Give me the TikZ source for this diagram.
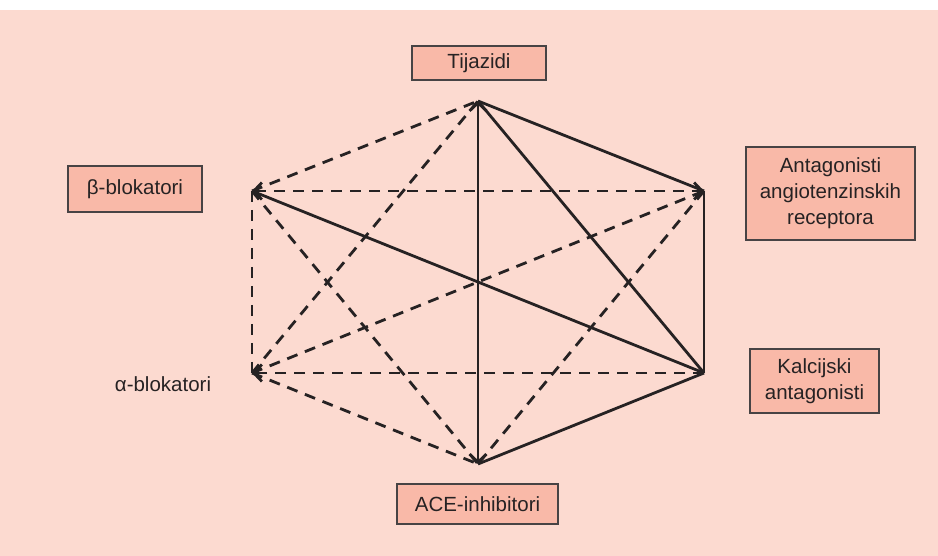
\documentclass[tikz,border=0pt]{standalone}
\usepackage{fontspec}
\setmainfont{Liberation Sans}
\usetikzlibrary{arrows.meta}
\definecolor{bgpink}{HTML}{FCDAD0}
\definecolor{boxpink}{HTML}{F9B9A8}
\definecolor{inkgray}{HTML}{262223}

\begin{document}
\begin{tikzpicture}[x=1pt,y=-1pt,
	drug/.style={draw=inkgray!85,line width=1.4pt,fill=boxpink,inner sep=0pt,align=center,text=inkgray,font=\fontsize{20.5}{26}\selectfont},
	link/.style={draw=inkgray,line width=2.8pt},
	weak/.style={link,dash pattern=on 11pt off 8pt},
	>={Straight Barb[length=8pt,width=17pt]}]
		\useasboundingbox (0,0) rectangle (938,556);
		\fill[bgpink] (0,10) rectangle (938,556);

		% corners of the hexagon
		\coordinate (T) at (478,101);
		\coordinate (AR) at (704,191);
		\coordinate (K) at (704,373);
		\coordinate (ACE) at (478,464);
		\coordinate (A) at (252,373);
		\coordinate (B) at (252,191);

		\node[drug,minimum width=134pt,minimum height=34pt] (tij) at (479,63) {Tijazidi};
		\node[drug,minimum width=134pt,minimum height=46pt] (beta) at (135,189) {β-blokatori};
		\node[drug,minimum width=169pt,minimum height=93pt] (ant) at (830.5,193.5) {Antagonisti\\angiotenzinskih\\receptora};
		\node[drug,minimum width=129pt,minimum height=64pt] (kal) at (814.5,381) {Kalcijski\\antagonisti};
		\node[drug,minimum width=161pt,minimum height=40pt] (ace) at (477.5,504) {ACE-inhibitori};
		\node[text=inkgray,font=\fontsize{20.5}{26}\selectfont] (alfa) at (163,384) {α-blokatori};

		% dashed
		\draw[weak] (B) -- (T);
		\draw[weak] (A) -- (T);
		\draw[weak,<->] (B) -- (AR);
		\draw[weak] (B) -- (A);
		\draw[weak] (B) -- (ACE);
		\draw[weak] (A) -- (AR);
		\draw[weak,->] (K) -- (A);
		\draw[weak] (A) -- (ACE);
		\draw[weak] (AR) -- (ACE);

		% solid
		\draw[link,<->] (T) -- (ACE);
		\draw[link] (T) -- (AR);
		\draw[link] (T) -- (K);
		\draw[link] (AR) -- (K);
		\draw[link] (B) -- (K);
		\draw[link] (K) -- (ACE);
\end{tikzpicture}
\end{document}
